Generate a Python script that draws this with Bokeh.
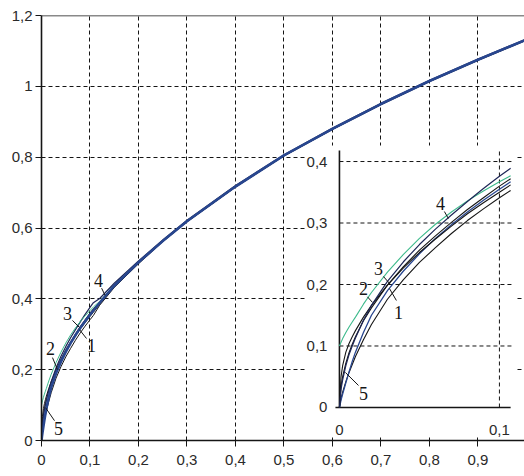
from bokeh.plotting import figure
from bokeh.models import Range1d, FixedTicker, Span
from bokeh.core.properties import value
from bokeh.embed import file_html
from bokeh.resources import INLINE

# ---------------- data ----------------
x_vals = [0, 0.001, 0.002, 0.004, 0.006, 0.008, 0.01, 0.015, 0.02, 0.03, 0.04, 0.05,
          0.06, 0.07, 0.08, 0.09, 0.1, 0.107, 0.12, 0.15, 0.2, 0.25, 0.3, 0.4, 0.5,
          0.6, 0.7, 0.8, 0.9, 1.0]
curve_1 = [0, 0.015, 0.025, 0.042, 0.057, 0.07, 0.083, 0.11, 0.135, 0.176, 0.208, 0.236,
           0.26, 0.283, 0.304, 0.323, 0.341, 0.353, 0.382, 0.432, 0.499, 0.561, 0.617, 0.715,
           0.803, 0.878, 0.948, 1.013, 1.073, 1.13]
curve_2 = [0.1, 0.106, 0.112, 0.122, 0.131, 0.139, 0.147, 0.168, 0.187, 0.22, 0.249, 0.275,
           0.298, 0.318, 0.336, 0.352, 0.367, 0.377, 0.393, 0.439, 0.504, 0.564, 0.62, 0.718,
           0.805, 0.88, 0.95, 1.015, 1.075, 1.132]
curve_3 = [0, 0.035, 0.05, 0.072, 0.089, 0.103, 0.115, 0.141, 0.162, 0.199, 0.229, 0.256,
           0.279, 0.301, 0.322, 0.341, 0.36, 0.372, 0.39, 0.437, 0.503, 0.563, 0.619, 0.717,
           0.805, 0.88, 0.95, 1.015, 1.075, 1.132]
curve_4 = [0, 0.03, 0.045, 0.068, 0.086, 0.1, 0.113, 0.142, 0.166, 0.205, 0.237, 0.265,
           0.29, 0.313, 0.335, 0.356, 0.376, 0.389, 0.401, 0.444, 0.507, 0.566, 0.622, 0.72,
           0.807, 0.882, 0.952, 1.017, 1.077, 1.134]
curve_5 = [0, 0.05, 0.068, 0.09, 0.104, 0.115, 0.125, 0.147, 0.166, 0.199, 0.227, 0.252,
           0.274, 0.295, 0.315, 0.333, 0.35, 0.362, 0.385, 0.434, 0.501, 0.562, 0.618, 0.716,
           0.804, 0.879, 0.949, 1.014, 1.074, 1.131]
curve_main = [0, 0.012, 0.022, 0.04, 0.058, 0.075, 0.09, 0.122, 0.15, 0.19, 0.222, 0.25,
              0.275, 0.297, 0.318, 0.337, 0.355, 0.367, 0.389, 0.437, 0.503, 0.563, 0.619, 0.717,
              0.805, 0.88, 0.95, 1.015, 1.075, 1.132]

x_ticks = [0, 0.1, 0.2, 0.3, 0.4, 0.5, 0.6, 0.7, 0.8, 0.9, 1.0]
x_tick_labels = ["0", "0,1", "0,2", "0,3", "0,4", "0,5", "0,6", "0,7", "0,8", "0,9", "1"]
y_ticks = [0, 0.2, 0.4, 0.6, 0.8, 1.0, 1.2]
y_tick_labels = ["0", "0,2", "0,4", "0,6", "0,8", "1", "1,2"]
x_grid = [0.1, 0.2, 0.3, 0.4, 0.5, 0.6, 0.7, 0.8, 0.9]
y_grid = [0.2, 0.4, 0.6, 0.8, 1.0]

inset_x_ticks = [0, 0.1]
inset_x_labels = ["0", "0,1"]
inset_y_ticks = [0, 0.1, 0.2, 0.3, 0.4]
inset_y_labels = ["0", "0,1", "0,2", "0,3", "0,4"]
inset_grid_y = [0.1, 0.2, 0.3, 0.4]
inset_n = 18  # points with x <= 0.107 shown in the inset

curve_names = ["1", "2", "3", "4", "5"]

# ---------------- styles ----------------
BLACK = "#151515"
NAVY = "#1d2656"
GREEN = "#3dba8c"
BLUE = "#28468f"
TICK_FONT = "Liberation Sans"
NUM_FONT = "Liberation Serif"

p = figure(width=524, height=476, x_range=Range1d(0, 0.996), y_range=Range1d(0, 1.2),
           output_backend="svg", toolbar_location=None,
           min_border_left=41, min_border_right=0, min_border_top=15, min_border_bottom=36)
p.background_fill_color = "white"
p.border_fill_color = "white"
p.outline_line_color = None

for ax, ticks, labels in ((p.xaxis, x_ticks, x_tick_labels), (p.yaxis, y_ticks, y_tick_labels)):
    ax.ticker = FixedTicker(ticks=ticks)
    ax.major_label_overrides = dict(zip(ticks, labels))
    ax.minor_tick_line_color = None
    ax.major_tick_in = 0
    ax.major_tick_out = 6
    ax.axis_line_color = BLACK
    ax.axis_line_width = 1.6
    ax.major_tick_line_color = BLACK
    ax.major_label_text_font = TICK_FONT
    ax.major_label_text_font_size = "15px"
    ax.major_label_text_color = "#2a2a2a"
p.xaxis.major_label_standoff = 8
p.yaxis.major_label_standoff = 3

p.xgrid.ticker = FixedTicker(ticks=x_grid)
p.ygrid.ticker = FixedTicker(ticks=y_grid)
for g in (p.xgrid, p.ygrid):
    g.grid_line_color = BLACK
    g.grid_line_dash = "4 3"
    g.grid_line_width = 1

p.add_layout(Span(location=p.y_range.end, dimension="width", line_color=BLACK, line_width=1.6))

# main curves
p.line(x_vals, curve_1, line_color=BLACK, line_width=1)
p.line(x_vals, curve_5, line_color=BLACK, line_width=1)
p.line(x_vals, curve_3, line_color=BLACK, line_width=1)
p.line(x_vals, curve_4, line_color=NAVY, line_width=1.2)
p.line(x_vals, curve_2, line_color=GREEN, line_width=1)
p.line(x_vals, curve_main, line_color=BLUE, line_width=2.6)

# main curve labels and leaders
main_lab_x = [0.103, 0.0186, 0.0536, 0.1175, 0.035]
main_lab_y = [0.268, 0.26, 0.3586, 0.452, 0.034]
p.text(main_lab_x, main_lab_y, text=curve_names, text_font=value(NUM_FONT),
       text_font_size="18px", text_align="center", text_baseline="middle", text_color=BLACK)
p.segment(x0=[0.0928, 0.0227, 0.0639, 0.124, 0.0268],
          y0=[0.288, 0.234, 0.339, 0.43, 0.056],
          x1=[0.0784, 0.033, 0.0784, 0.131, 0.0082],
          y1=[0.313, 0.2, 0.319, 0.41, 0.093], line_color=BLACK, line_width=1)

# ---------------- inset ----------------
ins = p.subplot(x_source=Range1d(0, 0.1), y_source=Range1d(0, 0.4),
                x_target=Range1d(0.6144, 0.9443), y_target=Range1d(0.0932, 0.7877))

ins.quad(left=[-0.021], right=[0.11], bottom=[-0.049], top=[0.426],
         fill_color="white", line_color=None)
ins.segment(x0=[0] * len(inset_grid_y), y0=inset_grid_y, x1=[0.108] * len(inset_grid_y),
            y1=inset_grid_y, line_color=BLACK, line_dash="4 3", line_width=1)
ins.segment(x0=[0.1], y0=[0], x1=[0.1], y1=[0.418], line_color=BLACK, line_dash="4 3", line_width=1)
ins.segment(x0=[0, -0.0025], y0=[0, 0], x1=[0, 0.107], y1=[0.418, 0],
            line_color=BLACK, line_width=1.6)

xs = x_vals[:inset_n]
ins.line(xs, curve_1[:inset_n], line_color=BLACK, line_width=1.1)
ins.line(xs, curve_main[:inset_n], line_color=BLUE, line_width=1.3)
ins.line(xs, curve_5[:inset_n], line_color=BLACK, line_width=1.1)
ins.line(xs, curve_3[:inset_n], line_color=BLACK, line_width=1.1)
ins.line(xs, curve_2[:inset_n], line_color=GREEN, line_width=1.1)
ins.line(xs, curve_4[:inset_n], line_color=NAVY, line_width=1.2)

ins.text(x=[-0.0075] * len(inset_y_ticks), y=inset_y_ticks, text=inset_y_labels,
         text_font=value(TICK_FONT), text_font_size="15px", text_align="right",
         text_baseline="middle", text_color="#2a2a2a")
ins.text(x=inset_x_ticks, y=[-0.0374] * len(inset_x_ticks), text=inset_x_labels,
         text_font=value(TICK_FONT), text_font_size="15px", text_align="center",
         text_baseline="middle", text_color="#2a2a2a")

ins_lab_x = [0.0369, 0.015, 0.0244, 0.0631, 0.015]
ins_lab_y = [0.1545, 0.1935, 0.226, 0.3317, 0.0228]
ins.text(ins_lab_x, ins_lab_y, text=curve_names, text_font=value(NUM_FONT),
         text_font_size="18px", text_align="center", text_baseline="middle", text_color=BLACK)
ins.segment(x0=[0.0356, 0.0175, 0.0275, 0.0656, 0.0119],
            y0=[0.174, 0.18, 0.213, 0.3187, 0.0358],
            x1=[0.03125, 0.0206, 0.0319, 0.0681, 0.0037],
            y1=[0.1935, 0.171, 0.2, 0.3073, 0.057], line_color=BLACK, line_width=1)

open("out.html", "w").write(file_html(p, INLINE))
